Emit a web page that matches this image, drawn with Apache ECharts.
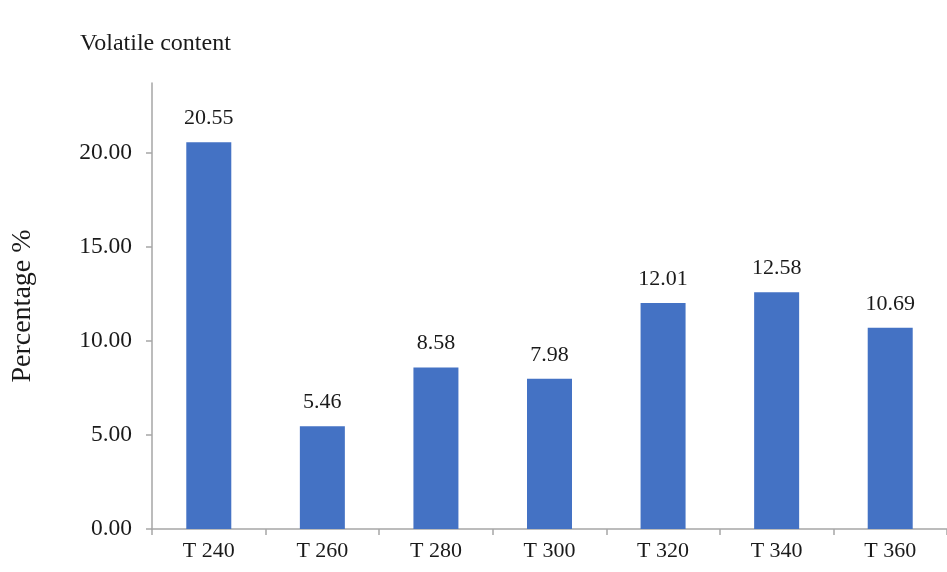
<!DOCTYPE html>
<html>
<head>
<meta charset="utf-8">
<script src="https://cdn.jsdelivr.net/npm/echarts@6/dist/echarts.min.js"></script>
<style>html,body{margin:0;padding:0;background:#fff}#c{width:947px;height:572px}</style>
</head>
<body>
<div id="c"></div>
<script>
const categories = ['T 240', 'T 260', 'T 280', 'T 300', 'T 320', 'T 340', 'T 360'];
const values = [20.55, 5.46, 8.58, 7.98, 12.01, 12.58, 10.69];
const yTicks = [0, 5, 10, 15, 20];

const chart = echarts.init(document.getElementById('c'));
const font = 'Liberation Serif';
chart.setOption({
  animation: false,
  backgroundColor: '#fff',
  title: {
    text: 'Volatile content',
    left: 75, top: 27,
    textStyle: { fontFamily: font, fontSize: 24, fontWeight: 'normal', color: '#1a1a1a' }
  },
  grid: { left: 152, top: 83, bottom: 43, right: -12, containLabel: false },
  xAxis: {
    type: 'category',
    data: categories,
    axisLine: { lineStyle: { color: '#a6a6a6', width: 1.5 } },
    axisTick: { show: true, length: 6, lineStyle: { color: '#a6a6a6', width: 1.5 } },
    axisLabel: { fontFamily: font, fontSize: 22, color: '#1a1a1a', margin: 11 }
  },
  yAxis: {
    type: 'value',
    min: 0, max: 23.7, interval: 5,
    name: 'Percentage %',
    nameLocation: 'middle',
    nameGap: 115,
    nameRotate: 90,
    nameTextStyle: { fontFamily: font, fontSize: 28, color: '#1a1a1a' },
    axisLine: { show: true, lineStyle: { color: '#a6a6a6', width: 1.5 } },
    axisTick: { show: true, length: 6, customValues: yTicks, lineStyle: { color: '#a6a6a6', width: 1.5 } },
    axisLabel: {
      customValues: yTicks,
      fontFamily: font, fontSize: 23.5, color: '#1a1a1a', margin: 20,
      formatter: v => v.toFixed(2)
    },
    splitLine: { show: false }
  },
  series: [{
    type: 'bar',
    data: values,
    barWidth: 45,
    itemStyle: { color: '#4472c4' },
    label: {
      show: true, position: 'top', distance: 13,
      fontFamily: font, fontSize: 22, color: '#1a1a1a',
      formatter: p => p.value.toFixed(2)
    }
  }]
});
</script>
</body>
</html>
